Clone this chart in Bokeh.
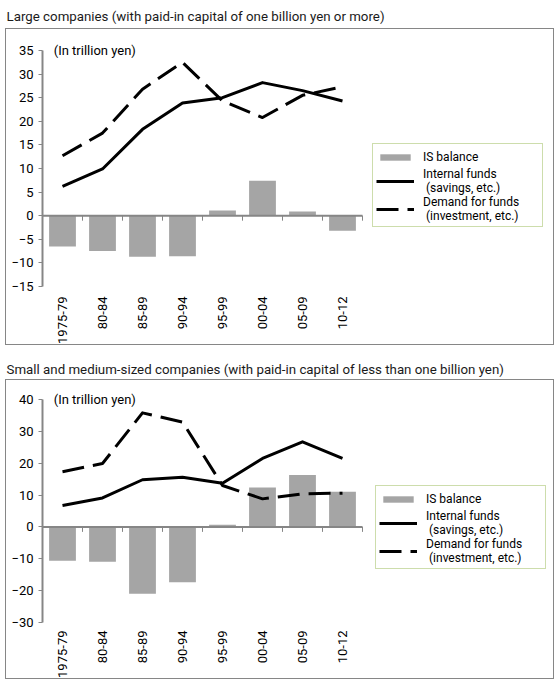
import math
from bokeh.plotting import figure
from bokeh.layouts import column
from bokeh.models import FixedTicker, Legend, LegendItem, Label, Range1d
from bokeh.embed import file_html
from bokeh.resources import INLINE

# periods on the x axis
periods = ["1975-79", "80-84", "85-89", "90-94", "95-99", "00-04", "05-09", "10-12"]

# large companies (trillion yen)
large_is = [-6.5, -7.5, -8.7, -8.6, 1.1, 7.4, 0.9, -3.2]
large_internal = [6.2, 9.9, 18.3, 23.9, 25.0, 28.2, 26.5, 24.3]
large_demand = [12.7, 17.5, 26.8, 32.5, 24.3, 20.8, 25.5, 27.3]
large_ticks = [-15, -10, -5, 0, 5, 10, 15, 20, 25, 30, 35]

# small and medium-sized companies (trillion yen)
small_is = [-10.6, -10.9, -21.0, -17.4, 0.7, 12.4, 16.3, 11.0]
small_internal = [6.7, 9.1, 14.8, 15.6, 13.7, 21.5, 26.7, 21.5]
small_demand = [17.3, 19.9, 35.8, 32.9, 13.0, 8.8, 10.4, 10.6]
small_ticks = [-30, -20, -10, 0, 10, 20, 30, 40]

FONT = "Roboto"
GRAY = "#868686"
W = 549
LEFT = 36
RIGHT = 5
CAT_PX = 40   # pixels per period
PAD = 9       # room above the top tick for the unit label


def title_strip(text, height, standoff):
    # the frames of a column line up, so the text sits in the title panel
    t = figure(width=W + 2, height=height, output_backend="svg", toolbar_location=None,
               x_range=Range1d(0, 1), y_range=Range1d(0, 1),
               x_axis_type=None, y_axis_type=None, min_border_left=0,
               min_border_right=0, min_border_top=height - 1, min_border_bottom=0)
    t.grid.visible = False
    t.outline_line_color = None
    t.title.text = text
    t.title.text_font = FONT
    t.title.text_font_size = "13.3px"
    t.title.text_font_style = "normal"
    t.title.text_color = "#1a1a1a"
    t.title.align = "left"
    t.title.offset = -LEFT + 1
    t.title.standoff = standoff
    return t


def make_panel(is_bal, internal, demand, ticks, height, frame_top, frame_h,
               label_standoff, legend_loc):
    n = len(periods)
    xs = [i + 0.5 for i in range(n)]
    x_end = (W - LEFT - RIGHT) / CAT_PX
    unit = (ticks[-1] - ticks[0]) / frame_h   # data units per pixel
    p = figure(width=W, height=height, output_backend="svg", toolbar_location=None,
               title=None, x_range=Range1d(0, x_end),
               y_range=Range1d(ticks[0], ticks[-1] + PAD * unit),
               min_border_left=LEFT, min_border_right=RIGHT,
               min_border_top=frame_top - PAD,
               min_border_bottom=height - frame_top - frame_h,
               styles={"border": "1px solid " + GRAY})
    p.xgrid.visible = False
    p.ygrid.visible = False
    p.outline_line_color = None

    # category labels at the bottom
    p.xaxis.ticker = FixedTicker(ticks=xs)
    p.xaxis.major_label_overrides = {x: lab for x, lab in zip(xs, periods)}
    p.xaxis.major_label_orientation = math.pi / 2
    p.xaxis.major_label_text_font = FONT
    p.xaxis.major_label_text_font_size = "13px"
    p.xaxis.major_label_text_color = "black"
    p.xaxis.major_label_standoff = label_standoff
    p.xaxis.axis_line_color = None
    p.xaxis.major_tick_line_color = None
    p.xaxis.major_tick_out = 0
    p.xaxis.major_tick_in = 0
    p.xaxis.minor_tick_line_color = None
    p.xaxis.minor_tick_out = 0

    p.yaxis.ticker = FixedTicker(ticks=ticks)
    p.yaxis.bounds = (ticks[0], ticks[-1])
    p.yaxis.axis_line_color = GRAY
    p.yaxis.axis_line_width = 2
    p.yaxis.major_tick_line_color = GRAY
    p.yaxis.major_tick_out = 4
    p.yaxis.major_tick_in = 0
    p.yaxis.minor_tick_line_color = None
    p.yaxis.major_label_text_font = FONT
    p.yaxis.major_label_text_font_size = "13px"
    p.yaxis.major_label_text_color = "black"
    p.yaxis.major_label_standoff = 5

    bars = p.vbar(x=xs, top=is_bal, bottom=0, width=0.67,
                  fill_color="#A5A5A5", line_color=None)

    # line through zero with small ticks between the periods
    bounds = list(range(1, n + 1))
    p.segment(x0=[0], y0=[0], x1=[n], y1=[0], line_color=GRAY, line_width=2)
    p.segment(x0=bounds, y0=[0] * n, x1=bounds, y1=[-5 * unit] * n,
              line_color=GRAY, line_width=1)

    solid = p.line(xs, internal, line_width=3, line_color="black", line_join="round")
    dashed = p.line(xs, demand, line_width=3, line_color="black", line_dash="22 9",
                    line_join="round")

    legend = Legend(items=[
        LegendItem(label="IS balance", renderers=[bars]),
        LegendItem(label="Internal funds\n (savings, etc.)", renderers=[solid]),
        LegendItem(label="Demand for funds\n (investment, etc.)", renderers=[dashed]),
    ], location=legend_loc, border_line_color="#9BBB59", border_line_width=1.5,
        glyph_width=38, glyph_height=8, label_standoff=9, padding=3, spacing=0,
        label_width=116, label_height=20,
        label_text_font=FONT, label_text_font_size="12px", label_text_color="black",
        label_text_line_height=0.85)
    p.add_layout(legend)

    p.add_layout(Label(x=0.28, y=ticks[-1], text="(In trillion yen)", text_font=FONT,
                       text_font_size="13px", text_baseline="middle",
                       text_color="black"))
    return p


t1 = title_strip("Large companies (with paid-in capital of one billion yen or more)",
                 28, 8)
p1 = make_panel(large_is, large_internal, large_demand, large_ticks,
                317, 21, 236, 10, (330, 59))
t2 = title_strip("Small and medium-sized companies (with paid-in capital of less than one billion yen)",
                 34, 4)
p2 = make_panel(small_is, small_internal, small_demand, small_ticks,
                300, 19, 224, 8, (333, 53))

p = column(t1, p1, t2, p2, spacing=0, margin=(0, 0, 0, 5))
open("out.html", "w").write(file_html(p, INLINE))
